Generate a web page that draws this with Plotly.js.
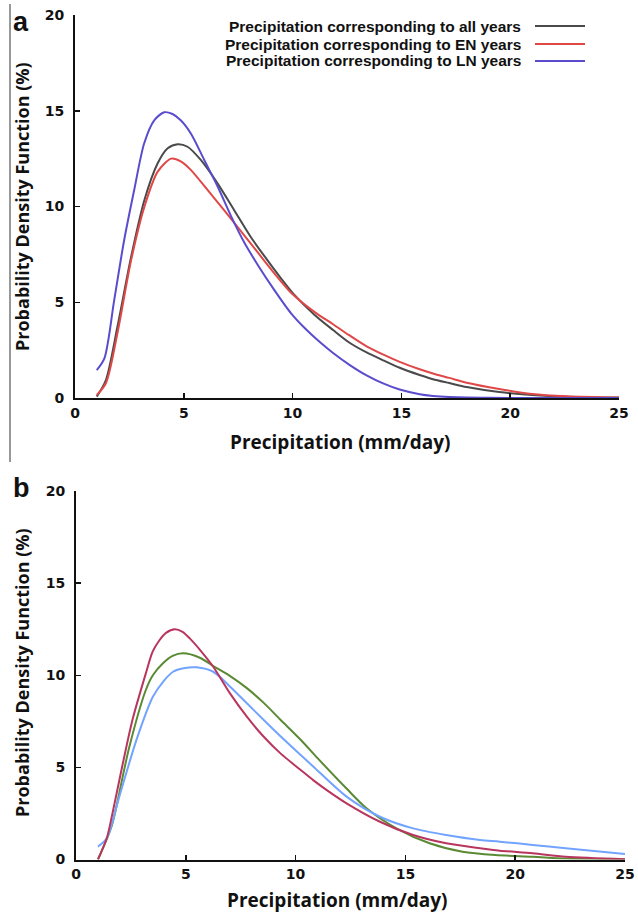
<!DOCTYPE html>
<html>
<head>
<meta charset="utf-8">
<script src="https://cdn.plot.ly/plotly-3.0.1.min.js"></script>
<style>html,body{margin:0;padding:0;background:#fff;}#chart{width:638px;height:915px;}</style>
</head>
<body>
<div id="chart"></div>
<script>
// ---------- Panel a ----------
const legendLabelsA = [
  "Precipitation corresponding to all years",
  "Precipitation corresponding to EN years",
  "Precipitation corresponding to LN years"
];
const xA_all = [1.0, 1.42, 1.95, 2.58, 3.19, 3.8, 4.26, 4.72, 5.17, 5.78, 6.55, 7.31, 8.07, 8.84, 9.5, 10.03, 11.0, 11.86, 12.6, 13.4, 14.2, 14.92, 15.84, 16.45, 17.2, 18.0, 19.5, 21.0, 22.6, 25.0];
const yA_all = [0.07, 0.94, 3.72, 7.38, 10.34, 12.26, 13.04, 13.25, 13.12, 12.43, 11.21, 9.82, 8.42, 7.2, 6.2, 5.45, 4.35, 3.55, 2.9, 2.38, 1.95, 1.58, 1.2, 0.98, 0.78, 0.57, 0.31, 0.16, 0.07, 0.02];

const xA_en = [1.0, 1.42, 1.95, 2.58, 3.19, 3.8, 4.42, 4.88, 5.33, 6.1, 6.86, 7.63, 8.4, 9.17, 9.93, 11.0, 11.86, 12.6, 13.4, 14.2, 14.92, 15.84, 16.45, 17.2, 18.0, 19.5, 21.0, 22.6, 25.0];
const yA_en = [0.16, 0.77, 3.38, 7.2, 9.99, 11.82, 12.5, 12.34, 11.9, 10.85, 9.8, 8.7, 7.6, 6.5, 5.5, 4.5, 3.85, 3.28, 2.7, 2.25, 1.89, 1.5, 1.28, 1.05, 0.8, 0.47, 0.21, 0.09, 0.02];

const xA_ln = [1.0, 1.35, 1.8, 2.26, 2.72, 3.18, 3.64, 4.1, 4.48, 4.86, 5.33, 5.94, 6.56, 7.17, 7.78, 8.4, 9.17, 9.93, 10.6, 11.25, 11.86, 12.63, 13.4, 14.16, 14.92, 15.84, 16.45, 17.2, 18.0, 19.0, 20.0, 25.0];
const yA_ln = [1.46, 2.07, 5.1, 8.25, 10.86, 13.3, 14.5, 14.92, 14.83, 14.5, 13.8, 12.43, 11.03, 9.5, 8.12, 6.95, 5.62, 4.42, 3.6, 2.92, 2.35, 1.72, 1.18, 0.76, 0.44, 0.2, 0.11, 0.05, 0.02, 0.01, 0.0, 0.0];

// ---------- Panel b ----------
const xB_red = [1.0, 1.4, 1.66, 2.1, 2.57, 3.18, 3.49, 3.8, 4.1, 4.5, 4.85, 5.18, 5.7, 6.25, 7.02, 7.78, 8.55, 9.31, 10.23, 10.8, 11.5, 12.32, 13.84, 15.35, 16.86, 18.4, 19.3, 20.8, 22.3, 25.0];
const yB_red = [0.0, 1.15, 2.5, 5.03, 7.57, 10.1, 11.28, 11.9, 12.3, 12.49, 12.35, 12.0, 11.3, 10.46, 9.0, 7.75, 6.66, 5.76, 4.86, 4.31, 3.7, 3.05, 2.05, 1.33, 0.88, 0.61, 0.48, 0.34, 0.15, 0.02];

const xB_green = [1.0, 1.4, 1.66, 2.43, 3.18, 3.5, 3.96, 4.4, 4.88, 5.64, 6.25, 7.02, 7.78, 8.55, 9.3, 10.23, 11.0, 12.32, 13.23, 14.59, 16.1, 17.6, 19.1, 20.8, 22.3, 25.0];
const yB_green = [0.0, 1.1, 1.96, 6.12, 9.2, 10.0, 10.65, 11.05, 11.19, 10.95, 10.5, 9.95, 9.3, 8.5, 7.6, 6.5, 5.5, 3.85, 2.78, 1.69, 0.88, 0.42, 0.24, 0.15, 0.05, 0.02];

const xB_blue = [1.0, 1.4, 1.97, 2.75, 3.5, 4.0, 4.42, 4.9, 5.49, 6.25, 7.02, 7.78, 8.55, 9.3, 10.23, 10.8, 12.32, 13.84, 15.35, 16.86, 18.4, 19.3, 20.8, 22.3, 25.0];
const yB_blue = [0.7, 1.15, 3.4, 6.48, 8.83, 9.7, 10.19, 10.38, 10.43, 10.19, 9.38, 8.48, 7.57, 6.7, 5.67, 5.05, 3.41, 2.32, 1.69, 1.33, 1.06, 0.97, 0.79, 0.61, 0.3];

const xTicks = [0, 5, 10, 15, 20, 25];
const yTicks = [0, 5, 10, 15, 20];
const xTitle = "Precipitation (mm/day)";
const yTitle = "Probability Density Function (%)";

const colA = ["#4a4a4a", "#e04848", "#5a4ccc"];
const colB = ["#b8365e", "#5a8a34", "#72a4ff"];

const W = 638, H = 915;
const px = v => v / W;
const py = v => 1 - v / H;

function line(x, y, color, xa, ya, name) {
  return {x: x, y: y, type: "scatter", mode: "lines", name: name, xaxis: xa, yaxis: ya,
    line: {color: color, width: 2, shape: "spline", smoothing: 0.8}, hoverinfo: "skip", showlegend: false};
}

const traces = [
  line(xA_all, yA_all, colA[0], "x", "y", legendLabelsA[0]),
  line(xA_en, yA_en, colA[1], "x", "y", legendLabelsA[1]),
  line(xA_ln, yA_ln, colA[2], "x", "y", legendLabelsA[2]),
  line(xB_green, yB_green, colB[1], "x2", "y2", "green"),
  line(xB_blue, yB_blue, colB[2], "x2", "y2", "blue"),
  line(xB_red, yB_red, colB[0], "x2", "y2", "red")
];

const tickFont = {family: "DejaVu Sans, sans-serif", size: 14, color: "#111", weight: "bold"};
function xax(domain, anchor) {
  return {domain: domain, anchor: anchor, range: [0, 25], tickvals: xTicks, ticktext: xTicks.map(String),
    showline: true, linecolor: "#111", linewidth: 2, ticks: "inside", ticklen: 5, tickwidth: 1.5, tickcolor: "#111",
    showgrid: false, zeroline: false, tickfont: tickFont, ticklabelstandoff: 1, fixedrange: true};
}
function yax(domain, anchor) {
  return {domain: domain, anchor: anchor, range: [0, 20], tickvals: yTicks, ticktext: yTicks.map(String),
    showline: true, linecolor: "#111", linewidth: 2, ticks: "inside", ticklen: 5, tickwidth: 1.5, tickcolor: "#111",
    showgrid: false, zeroline: false, tickfont: tickFont, ticklabelstandoff: 6, fixedrange: true};
}

const xTitleFont = {family: "Open Sans, sans-serif", size: 19, color: "#111", weight: "bold"};
const yTitleFont = {family: "Open Sans, sans-serif", size: 18, color: "#111", weight: "bold"};
const annotations = [
  {text: "a", x: px(21), y: py(22), xref: "paper", yref: "paper", showarrow: false, xanchor: "center", yanchor: "middle",
   font: {family: "Liberation Sans, Arial, sans-serif", size: 27, weight: "bold", color: "#111"}},
  {text: "b", x: px(21), y: py(488), xref: "paper", yref: "paper", showarrow: false, xanchor: "center", yanchor: "middle",
   font: {family: "Liberation Sans, Arial, sans-serif", size: 27, weight: "bold", color: "#111"}},
  {text: xTitle, x: px(340), y: py(442), xref: "paper", yref: "paper", showarrow: false, xanchor: "center", yanchor: "middle", font: xTitleFont},
  {text: xTitle, x: px(337), y: py(900), xref: "paper", yref: "paper", showarrow: false, xanchor: "center", yanchor: "middle", font: xTitleFont},
  {text: yTitle, x: px(22), y: py(207), xref: "paper", yref: "paper", showarrow: false, textangle: -90, xanchor: "center", yanchor: "middle", font: yTitleFont},
  {text: yTitle, x: px(22), y: py(673), xref: "paper", yref: "paper", showarrow: false, textangle: -90, xanchor: "center", yanchor: "middle", font: yTitleFont}
];
const legY = [26, 44, 61];
const shapes = [
  {type: "line", xref: "paper", yref: "paper", x0: px(10), x1: px(10), y0: py(4), y1: py(462), line: {color: "#333", width: 1}}
];
legendLabelsA.forEach((t, i) => {
  annotations.push({text: t, x: px(523), y: py(legY[i]), xref: "paper", yref: "paper", showarrow: false,
    xanchor: "right", yanchor: "middle", font: {family: "Liberation Sans, Arial, sans-serif", size: 15.5, weight: "bold", color: "#111"}});
  shapes.push({type: "line", xref: "paper", yref: "paper", x0: px(535), x1: px(585), y0: py(legY[i]), y1: py(legY[i]),
    line: {color: colA[i], width: 2}});
});

const layout = {
  width: W, height: H,
  margin: {l: 0, r: 0, t: 0, b: 0},
  paper_bgcolor: "#fff", plot_bgcolor: "#fff",
  showlegend: false,
  xaxis: xax([75 / W, 619 / W], "y"),
  yaxis: yax([1 - 398 / H, 1 - 15 / H], "x"),
  xaxis2: xax([76 / W, 625 / W], "y2"),
  yaxis2: yax([1 - 859.5 / H, 1 - 491 / H], "x2"),
  annotations: annotations,
  shapes: shapes
};

Plotly.newPlot("chart", traces, layout, {staticPlot: true, displayModeBar: false});
</script>
</body>
</html>
